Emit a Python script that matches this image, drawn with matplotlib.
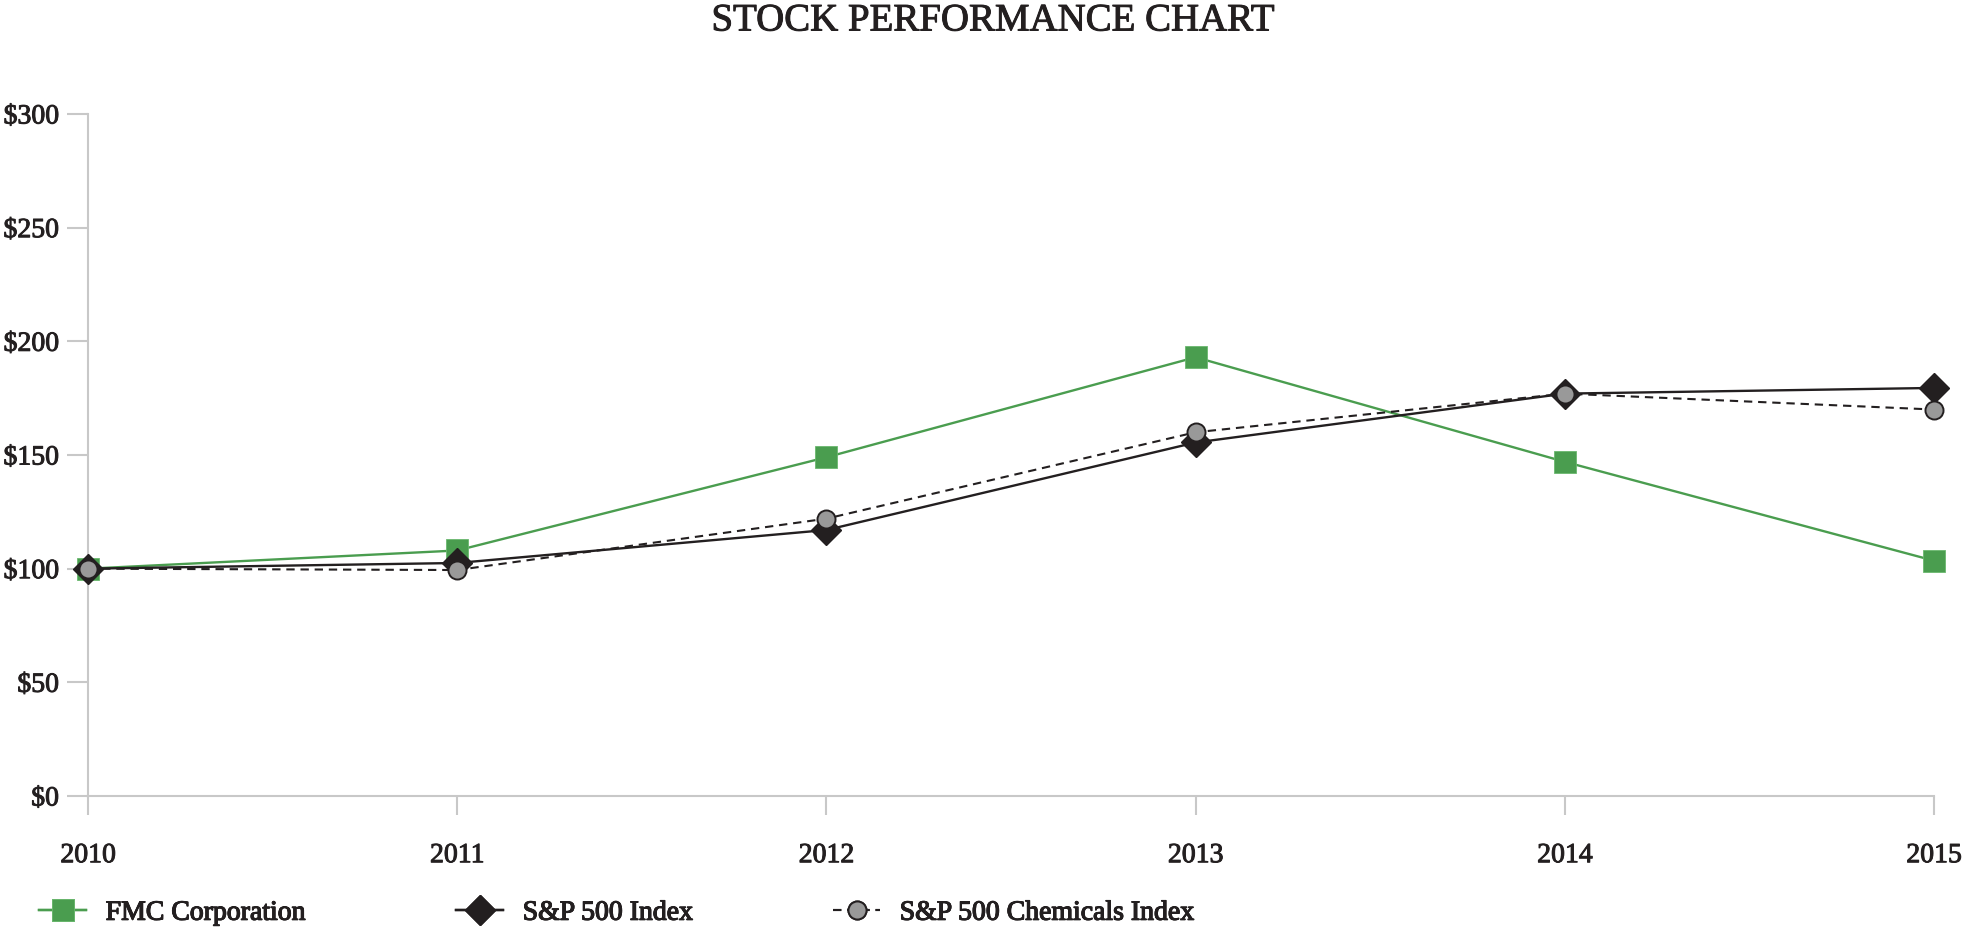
import matplotlib
matplotlib.use("Agg")
import matplotlib.pyplot as plt
import matplotlib.patheffects as pe
from matplotlib.lines import Line2D

plt.rcParams['font.family'] = ['Liberation Serif', 'DejaVu Serif']

years = [2010, 2011, 2012, 2013, 2014, 2015]
fmc = [100, 108, 149, 193, 147, 103.5]
sp500 = [100, 102.5, 117, 155.5, 177, 179.5]
chem = [100, 99.4, 122, 160, 177, 170]
y_ticks = [0, 50, 100, 150, 200, 250, 300]
y_labels = ["$0", "$50", "$100", "$150", "$200", "$250", "$300"]
series_names = ["FMC Corporation", "S&P 500 Index", "S&P 500 Chemicals Index"]

GREEN = '#4a9d4f'
DARK = '#231f20'
GRAY = '#999999'
AXIS = '#c8c8c8'
TEXT = '#231f20'
heavy = [pe.withStroke(linewidth=0.7, foreground=TEXT)]

fig = plt.figure(figsize=(19.64, 9.34), dpi=100)
ax = fig.add_axes([88/1964, 1-796/934, (1934-88)/1964, (796-114)/934])

styles = [
    dict(color=GREEN, lw=1.7, marker='s', ms=16.5, mfc=GREEN, mec='#6ab86e', mew=0.6),
    dict(color=DARK, lw=1.7, marker='D', ms=15, mfc=DARK, mec=DARK, mew=1.0),
    dict(color=DARK, lw=1.5, ls=(0, (4, 2.8)), marker='o', ms=13, mfc=GRAY, mec=DARK, mew=1.4),
]
for vals, st, z, name in zip([fmc, sp500, chem], styles, [3, 4, 5], series_names):
    ax.plot(years, vals, clip_on=False, zorder=z, label=name, **st)

ax.set_xlim(2010, 2015)
ax.set_ylim(0, 300)
ax.set_xticks(years)
ax.set_xticklabels([str(y) for y in years])
ax.set_yticks(y_ticks)
ax.set_yticklabels(y_labels)

for s in ['top', 'right']:
    ax.spines[s].set_visible(False)
for s in ['left', 'bottom']:
    ax.spines[s].set_color(AXIS)
    ax.spines[s].set_linewidth(1.5)

ax.tick_params(axis='y', length=15, width=1.5, color=AXIS, pad=6,
               labelsize=20, labelcolor=TEXT)
ax.tick_params(axis='x', length=14, width=1.5, color=AXIS, pad=20,
               labelsize=20, labelcolor=TEXT)
for lab in ax.get_xticklabels() + ax.get_yticklabels():
    lab.set_path_effects(heavy)

fig.text(993/1964, 1-21/934, "STOCK PERFORMANCE CHART", ha='center', va='center',
         fontsize=28, color=TEXT, path_effects=heavy)

# one legend per entry, anchored at the handle start positions
handle_x = [39, 456, 833]
for st, name, hx in zip(styles, series_names, handle_x):
    h = Line2D([], [], **st)
    leg = fig.legend([h], [name], loc='center left',
                     bbox_to_anchor=(hx/1964, 1-913/934), frameon=False,
                     fontsize=20, handlelength=1.7, handletextpad=0.7,
                     borderpad=0, borderaxespad=0, numpoints=1)
    for t in leg.get_texts():
        t.set_color(TEXT)
        t.set_path_effects(heavy)
    fig.add_artist(leg)

fig.savefig("out.png", dpi=100)
